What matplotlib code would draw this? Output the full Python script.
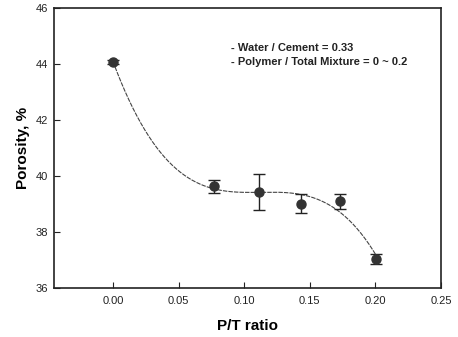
import numpy as np
import matplotlib
matplotlib.use('Agg')
import matplotlib.pyplot as plt

plt.rcParams['font.family'] = ['Liberation Sans', 'DejaVu Sans']

# P/T ratio and measured porosity (%)
pt_ratio = [0.0, 0.077, 0.1115, 0.143, 0.173, 0.2005]
porosity = [44.07, 39.63, 39.42, 39.01, 39.10, 37.03]
err = [0.06, 0.22, 0.65, 0.34, 0.27, 0.18]

# cubic regression of porosity vs P/T ratio
coef = np.polyfit(pt_ratio, porosity, 3)
xs = np.linspace(0, 0.2, 200)
ys = np.polyval(coef, xs)

fig = plt.figure(figsize=(4.58, 3.37), dpi=100)
ax = fig.add_axes([0.118, 0.1454, 0.845, 0.8306])

ax.plot(xs, ys, color='#444444', lw=0.8, ls=(0, (4, 1)))
ax.errorbar(pt_ratio, porosity, yerr=err, fmt='o', color='#333333', ms=6.5,
            ecolor='#222222', elinewidth=1, capsize=4, capthick=1)

ax.set_xlim(-0.045, 0.25)
ax.set_ylim(36, 46)
ax.set_xticks([0.0, 0.05, 0.10, 0.15, 0.20, 0.25])
ax.set_xticklabels(['0.00', '0.05', '0.10', '0.15', '0.20', '0.25'])
ax.set_yticks([36, 38, 40, 42, 44, 46])
ax.tick_params(direction='in', length=4, labelsize=8, colors='#222222')
ax.tick_params(axis='x', pad=6)
ax.tick_params(axis='y', pad=4)
for s in ax.spines.values():
    s.set_linewidth(1.2)
    s.set_color('#222222')

ax.set_xlabel('P/T ratio', fontsize=11, fontweight='bold', labelpad=9)
ax.set_ylabel('Porosity, %', fontsize=11, fontweight='bold', labelpad=4)

ax.text(0.090, 44.57, '- Water / Cement = 0.33', fontsize=8, fontweight='bold',
        color='#222222', va='center')
ax.text(0.090, 44.07, '- Polymer / Total Mixture = 0 ~ 0.2', fontsize=8, fontweight='bold',
        color='#222222', va='center')

fig.savefig('out.png', dpi=100)
